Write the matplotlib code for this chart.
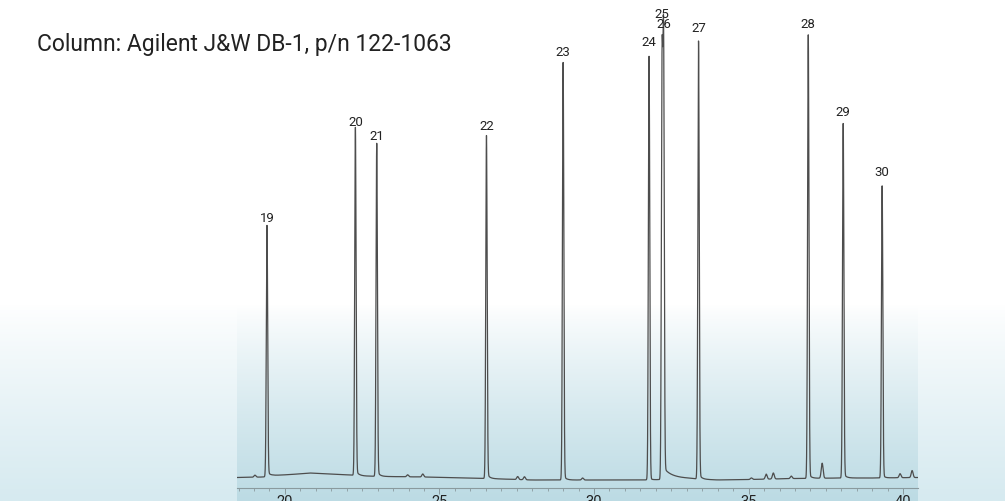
import matplotlib
matplotlib.use('agg')
import matplotlib.pyplot as plt
import numpy as np

plt.rcParams['font.family'] = ['Roboto', 'DejaVu Sans']

# labelled peaks: retention time (min), height above baseline, label
peak_times = [19.42, 22.28, 22.97, 26.52, 29.00, 31.78, 32.20, 32.25, 33.38, 36.93, 38.06, 39.32]
peak_heights = [248, 345, 330, 340, 415, 422, 400, 420, 435, 441, 352, 290]
peak_labels = ['19', '20', '21', '22', '23', '24', '25', '26', '27', '28', '29', '30']
label_y = [218, 122, 137, 127, 53, 43, 15, 24, 29, 24, 113, 173]  # pixel row of label centre
tail_amps = [6, 6, 6, 6, 5, 3, 4, 10, 6, 5, 5, 4]
tail_taus = [0.08, 0.08, 0.08, 0.08, 0.08, 0.05, 0.1, 0.35, 0.08, 0.08, 0.08, 0.06]

# small unlabelled peaks
small_times = [19.03, 23.97, 24.46, 27.53, 27.75, 29.63, 35.09, 35.57, 35.80, 36.38, 37.38, 39.90, 40.29]
small_heights = [2, 2, 3, 3, 3, 2, 1.5, 5, 6, 2.5, 15, 4, 7]

# baseline level (time, level)
base_t = [18.45, 19.3, 19.6, 20.2, 20.8, 21.5, 22.1, 22.6, 23.2, 24.5, 26.0, 27.0, 28.0, 30.0, 31.5, 33.0, 34.0, 35.0, 36.5, 38.0, 39.0, 40.48]
base_y = [0.5, 1.0, 2.5, 3.5, 5.0, 4.0, 3.0, 2.0, 1.5, 1.0, 0.0, -1.0, -2.0, -2.0, -2.0, -1.0, -2.0, -1.5, -0.5, 0.0, 0.0, 0.5]

tick_vals = [20, 25, 30, 35, 40]

t = np.arange(18.45, 40.48, 0.002)
y = np.interp(t, base_t, base_y)
sig = 0.022
for t0, h, a, tau in zip(peak_times, peak_heights, tail_amps, tail_taus):
    y += h * np.exp(-0.5 * ((t - t0) / sig) ** 2)
    step = 0.5 * (1 + np.tanh((t - t0) / 0.02))
    y += a * step * np.exp(-np.clip(t - t0, 0, None) / tau)
for t0, h in zip(small_times, small_heights):
    y += h * np.exp(-0.5 * ((t - t0) / 0.03) ** 2)

fig = plt.figure(figsize=(10.05, 5.01), dpi=100)

# background gradients
bg = fig.add_axes([0, 0, 1, 1])
bg.axis('off')
rows = np.linspace(0, 501, 300)
f = np.clip((rows - 305) / 196, 0, 1) ** 0.85
outer_bot = np.array([214, 234, 240]) / 255
inner_bot = np.array([188, 219, 228]) / 255
white = np.ones(3)
outer = white[None, :] * (1 - f[:, None]) + outer_bot[None, :] * f[:, None]
inner = white[None, :] * (1 - f[:, None]) + inner_bot[None, :] * f[:, None]
bg.imshow(outer[:, None, :], extent=[0, 1005, 501, 0], aspect='auto')
bg.imshow(inner[:, None, :], extent=[237, 918, 501, 0], aspect='auto')
bg.set_xlim(0, 1005)
bg.set_ylim(501, 0)

ax = fig.add_axes([237 / 1005, 13 / 501, 681 / 1005, 488 / 501])
ax.patch.set_alpha(0)
ax.plot(t, y, color='#4d4d4d', lw=0.9)
ax.set_xlim(18.45, 40.48)
ax.set_ylim(-10, 478)
for s in ['top', 'right', 'left']:
    ax.spines[s].set_visible(False)
ax.spines['bottom'].set_color('#8a9a9e')
ax.spines['bottom'].set_linewidth(0.8)
ax.set_yticks([])
ax.set_xticks(tick_vals)
ax.set_xticks(np.arange(18.5, 40.5, 0.5), minor=True)
ax.tick_params(axis='x', which='major', length=4, width=0.7, color='#8a9a9e', pad=1,
               labelsize=10.5, labelcolor='#222222')
ax.tick_params(axis='x', which='minor', length=2.5, width=0.6, color='#8a9a9e')

for t0, lab, ly in zip(peak_times, peak_labels, label_y):
    ax.text(t0, 478 - ly, lab, ha='center', va='center', fontsize=9.5, color='#222222')

fig.text(37 / 1005, 1 - 44 / 501, 'Column: Agilent J&W DB-1, p/n 122-1063', fontsize=16.5,
         color='#222222', va='center', ha='left')

fig.savefig('out.png', dpi=100)
